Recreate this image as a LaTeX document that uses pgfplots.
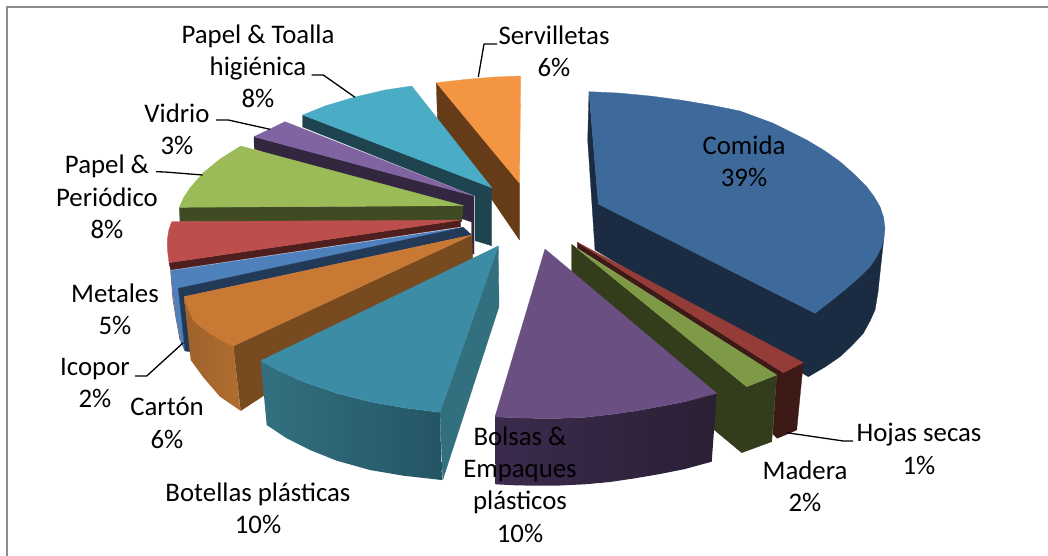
\documentclass[border=0pt]{standalone}
\usepackage{pgfplots}
\pgfplotsset{compat=1.18}
\usepackage{fontspec}
\setmainfont{Carlito}
\definecolor{cT}{HTML}{3E6A9B}\definecolor{cS}{HTML}{1A2B42}
\definecolor{hT}{HTML}{953C38}\definecolor{hS}{HTML}{3E1A16}
\definecolor{mT}{HTML}{7E9A47}\definecolor{mS}{HTML}{333D1B}
\definecolor{bT}{HTML}{694F82}\definecolor{bS}{HTML}{2A2035}\definecolor{bL}{HTML}{3B2A4D}
\definecolor{pT}{HTML}{3B8CA4}\definecolor{pR}{HTML}{33707F}\definecolor{pD}{HTML}{245565}
\definecolor{oT}{HTML}{C87A35}\definecolor{oS}{HTML}{784A20}\definecolor{oL}{HTML}{B06D30}\definecolor{oD}{HTML}{A0622B}
\definecolor{iT}{HTML}{4E80BC}\definecolor{iS}{HTML}{223A58}
\definecolor{rT}{HTML}{BC4E4B}\definecolor{rS}{HTML}{4E1F1E}
\definecolor{gT}{HTML}{9BBB59}\definecolor{gS}{HTML}{414B23}
\definecolor{vT}{HTML}{8064A2}\definecolor{vS}{HTML}{33263F}
\definecolor{tT}{HTML}{4BACC6}\definecolor{tS}{HTML}{1E4450}
\definecolor{sT}{HTML}{F39542}\definecolor{sS}{HTML}{663C18}
\definecolor{fr}{HTML}{8C8C8C}
\pgfplotsset{poly/.style={no markers,draw=#1,fill=#1,line width=0.3pt,line join=round},
 lead/.style={no markers,black,line width=1.3pt,line join=round}}
\tikzset{lab/.style={font=\fontsize{26.8}{32.3}\selectfont,align=center,text=black,inner sep=0pt}}
\begin{document}
\begin{tikzpicture}
\begin{axis}[hide axis,scale only axis,width=1048pt,height=556pt,
 xmin=0,xmax=1048,ymin=0,ymax=556,y dir=reverse,clip=true]
% page extent
\addplot[draw=none,no markers,forget plot] coordinates {(0,0)(1048,556)};
% frame
\addplot[no markers,fr,line width=2pt] coordinates {(6.5,556)(6.5,7.5)(1048,7.5)};
% Servilletas
\addplot[poly=sS] coordinates {(436.3,82.7)(519.5,183)(519.5,240)(437.5,120)} --cycle;
\addplot[poly=sT] coordinates {(436.3,82.7)(465,79.5)(495,77)(520.7,76)(519.5,183.3)} --cycle;
% Papel y toalla
\addplot[poly=tS] coordinates {(302.7,115)(491.7,187.7)(491.7,245.7)(475,240.7)(475,196)(302.7,127)} --cycle;
\addplot[poly=tT] coordinates {(302.7,115)(325,106)(355,97)(385,90)(411.7,86)(491.7,187.7)} --cycle;
% Vidrio
\addplot[poly=vS] coordinates {(254,136.7)(474,196)(474,254)(471.7,254)(471.7,222)(254.3,149)} --cycle;
\addplot[poly=vT] coordinates {(254,136.7)(270,129)(285,121.7)(474,196)} --cycle;
% Papel periodico
\addplot[poly=gS] coordinates {(179.3,207.3)(463.3,205.7)(461.7,221.7)(180,221.7)} --cycle;
\addplot[poly=gT] coordinates {(240.7,146)(220,159)(203,173)(190,188)(184,197)(179.3,207.3)(463.3,205.7)} --cycle;
% Metales (rojo)
\addplot[poly=rS] coordinates {(169,262.7)(460.7,220)(460.7,226.7)(170.7,270)} --cycle;
\addplot[poly=rT] coordinates {(171.7,221.7)(460.7,220)(169,262.7)(167.5,250)(167.3,240)(168.8,230)} --cycle;
% Icopor (azul)
\addplot[no markers,draw=rT,line width=0.8pt] coordinates {(170.7,270)(173,300)(180,340)};
\addplot[poly=iT] coordinates {(170.7,270.7)(178.3,288.3)(185,351)(181,343)(176,318)(173,295)} --cycle;
\addplot[poly=iT] coordinates {(170.7,270.7)(463.3,227.3)(178.3,288.3)} --cycle;
\addplot[poly=iS] coordinates {(178.3,288.3)(463.3,227.3)(471.7,235)(184,296.7)(190.5,351.7)(185,351)} --cycle;
% Carton
\addplot[poly=oS] coordinates {(233.3,346)(471.7,235)(472.7,258.3)(240.7,410.7)} --cycle;
\addplot[draw=none,no markers,left color=oD,right color=oL] coordinates {(184,296.7)(190.7,360)(203.3,377.3)(220,396.7)(240.4,410.7)(233.3,346)(210,333.3)(193.3,320)} --cycle;
\addplot[poly=oT] coordinates {(184,296.7)(188,309)(193.3,320)(201,327)(210,333.3)(221,340)(233.3,346)(471.7,235)} --cycle;
% Botellas
\addplot[poly=pR] coordinates {(498.3,246)(499,306.7)(442.7,480)(440,412.3)} --cycle;
\addplot[draw=none,no markers,left color=pR,right color=pD] coordinates {(260.7,360.7)(266.7,425)(286.7,438.3)(310,450)(336.7,460.7)(370,470)(403.3,475.7)(441.7,480)(440,412.3)(403.3,407.7)(370,401.7)(336.7,393.3)(303.3,381.7)(276.7,370)} --cycle;
\addplot[poly=pT] coordinates {(498.3,246)(260.7,360.7)(276.7,370)(303.3,381.7)(336.7,393.3)(370,401.7)(403.3,407.7)(440,412.3)} --cycle;
% Comida
\addplot[poly=cS] coordinates {(589,91.7)(587.7,140)(595,250)(808.3,376.7)(825,367)(840,356.7)(852,345.5)(863.3,333.3)(870,321)(875,310)(878,292)(880,273)(884,236.7)(815,313.3)(598.3,204)} --cycle;
\addplot[poly=cT] coordinates {(589,91.7)(618,93)(650,96)(680,100)(710,105)(740,111)(773.3,123.3)(806.7,140)(825,151)(840,161.7)(854,174)(866.7,186.7)(874,196.5)(880,206.7)(883.5,217)(885,228.3)(884,237.5)(881.7,246.7)(876.5,257)(870,266.7)(859,277.5)(846.7,288.3)(831,301)(815,313.3)(598.3,204)} --cycle;
% Hojas
\addplot[poly=hS] coordinates {(577.3,242.3)(783.3,372.7)(803.3,362.7)(796.7,430)(777.3,438.3)(772.7,434)(776.7,375)(577.3,248)} --cycle;
\addplot[poly=hT] coordinates {(577.3,242.3)(803.3,362.7)(783.3,372.7)} --cycle;
% Madera
\addplot[poly=mS] coordinates {(571.7,244.3)(746.7,386.7)(776.7,375)(771.7,441.7)(741.7,452.7)(712,428)(571.7,271.7)} --cycle;
\addplot[poly=mT] coordinates {(577,248.5)(776.7,375)(746.7,386.7)} --cycle;
% Bolsas
\addplot[draw=none,no markers,left color=bL,right color=bS] coordinates {(495,416.7)(495.7,484.3)(515,485.3)(535,485.7)(560,485.5)(585,484.3)(610,482)(635,478.3)(660,474)(685,469)(711.7,461.7)(716.7,393.3)(685,401.7)(660,406.5)(635,411)(610,414.5)(585,417.3)(560,418.3)(535,418.3)(515,417.8)} --cycle;
\addplot[poly=bT] coordinates {(545,249)(716.7,393.3)(685,401.7)(660,406.5)(635,411)(610,414.5)(585,417.3)(560,418.3)(535,418.3)(515,417.8)(495,416.7)} --cycle;
% leaders
\addplot[lead] coordinates {(478.3,77)(484,44)(497,44)};
\addplot[lead] coordinates {(355,97.3)(323.3,75)(311.7,75)};
\addplot[lead] coordinates {(270,129.3)(228.3,120)(216,120)};
\addplot[lead] coordinates {(202.7,175)(165,172)(156,171.7)};
\addplot[lead] coordinates {(183.3,342.7)(146.7,376)(135,376)};
\addplot[lead] coordinates {(786.7,432.7)(843.3,441)(853,441)};
% labels
\node[lab] at (axis cs:554,51) {Servilletas\\6\%};
\node[lab] at (axis cs:258,66.5) {Papel \& Toalla\\higiénica\\8\%};
\node[lab] at (axis cs:177,129) {Vidrio\\3\%};
\node[lab] at (axis cs:107,197) {Papel \&\\Periódico\\8\%};
\node[lab] at (axis cs:115,309) {Metales\\5\%};
\node[lab] at (axis cs:95,383) {Icopor\\2\%};
\node[lab] at (axis cs:167,423) {Cartón\\6\%};
\node[lab] at (axis cs:258,508) {Botellas plásticas\\10\%};
\node[lab] at (axis cs:520,484.5) {Bolsas \&\\Empaques\\plásticos\\10\%};
\node[lab] at (axis cs:805,486) {Madera\\2\%};
\node[lab] at (axis cs:919,449) {Hojas secas\\1\%};
\node[lab] at (axis cs:744,161) {Comida\\39\%};
\end{axis}
\end{tikzpicture}
\end{document}
